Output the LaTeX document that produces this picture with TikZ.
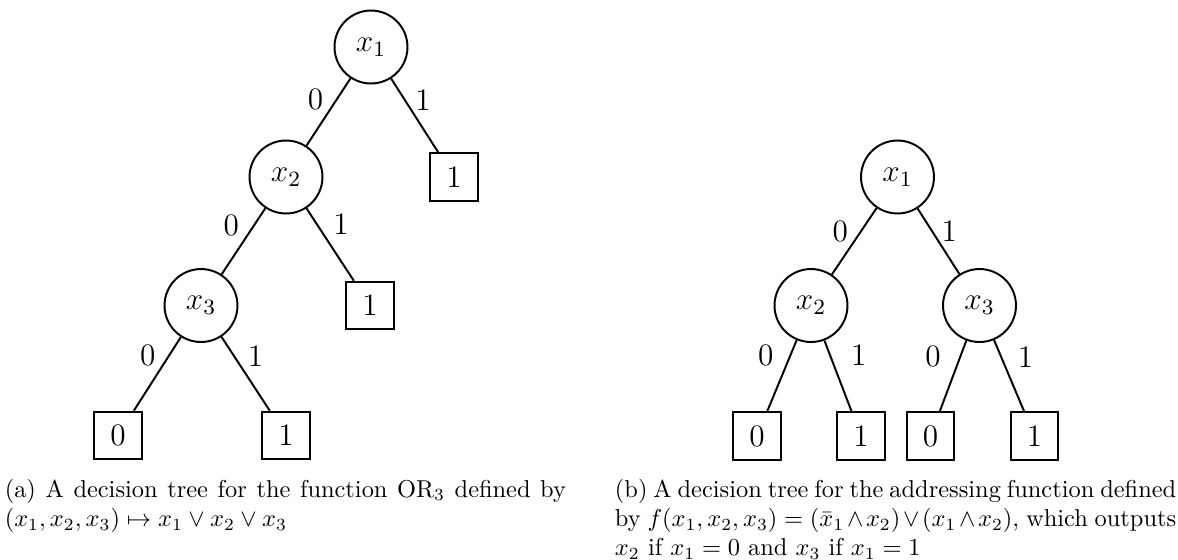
\documentclass[tikz,border=0pt]{standalone}
\usepackage{fix-cm}
\newcommand\treefont{\fontsize{12.8}{15.4}\selectfont}
\newcommand\capline[1]{\makebox[230pt][s]{#1}}
\tikzset{
  dnode/.style={circle, draw, line width=0.8pt, minimum size=29.9pt, inner sep=0pt, font=\treefont},
  leaf/.style={rectangle, draw, line width=0.8pt, minimum size=19.5pt, inner sep=0pt, font=\treefont},
  branch/.style={line width=0.8pt},
  blabel/.style={inner sep=0pt, font=\treefont, midway},
  capt/.style={anchor=north west, inner sep=0pt, align=left,
               font=\fontsize{10}{12}\selectfont}
}
\begin{document}
\begin{tikzpicture}[x=0.4098pt, y=-0.4098pt]
\useasboundingbox (0,0) rectangle (1178,559);

% ---- (a) decision tree for OR_3 ----
\node[dnode] (a1) at (371,47)    {$x_1$};
\node[dnode] (a2) at (286,177)   {$x_2$};
\node[leaf]  (l1) at (454,177)   {1};
\node[dnode] (a3) at (201,305.5) {$x_3$};
\node[leaf]  (l2) at (370,305.5) {1};
\node[leaf]  (l3) at (118,435.5) {0};
\node[leaf]  (l4) at (286,435.5) {1};

\draw[branch] (a1) -- node[blabel, shift={(-13,-13)}] {0} (a2);
\draw[branch] (a1) -- node[blabel, shift={(8.4,-15.3)}] {1} (l1);
\draw[branch] (a2) -- node[blabel, shift={(-12.3,-16.2)}] {0} (a3);
\draw[branch] (a2) -- node[blabel, shift={(10.8,-20.5)}] {1} (l2);
\draw[branch] (a3) -- node[blabel, shift={(-9.6,-18.8)}] {0} (l3);
\draw[branch] (a3) -- node[blabel, shift={(9.9,-18.1)}] {1} (l4);

% ---- (b) decision tree for the addressing function ----
\node[dnode] (b1) at (897.5,177) {$x_1$};
\node[dnode] (b2) at (811,305.5) {$x_2$};
\node[dnode] (b3) at (979.5,305.5) {$x_3$};
\node[leaf]  (m1) at (757,436)   {0};
\node[leaf]  (m2) at (861,436)   {1};
\node[leaf]  (m3) at (930.5,436) {0};
\node[leaf]  (m4) at (1034.5,436) {1};

\draw[branch] (b1) -- node[blabel, shift={(-14,-9.8)}] {0} (b2);
\draw[branch] (b1) -- node[blabel, shift={(10.7,-9.8)}] {1} (b3);
\draw[branch] (b2) -- node[blabel, shift={(-16.2,-20.7)}] {0} (m1);
\draw[branch] (b2) -- node[blabel, shift={(20.9,-21)}] {1} (m2);
\draw[branch] (b3) -- node[blabel, shift={(-20,-19.3)}] {0} (m3);
\draw[branch] (b3) -- node[blabel, shift={(16.5,-19)}] {1} (m4);

% ---- captions ----
\node[capt] (capa) at (4.3,476.2) {\capline{\strut(a) A decision tree for the function OR$_3$ defined by}\\
  $(x_1, x_2, x_3) \mapsto x_1 \vee x_2 \vee x_3$};
\node[capt] (capb) at (614.5,476.2) {\capline{\strut(b) A decision tree for the addressing function defined}\\
  \capline{by $f(x_1, x_2, x_3) = (\bar{x}_1 \wedge x_2) \vee (x_1 \wedge x_2)$, which outputs}\\
  $x_2$ if $x_1 = 0$ and $x_3$ if $x_1 = 1$};
\end{tikzpicture}
\end{document}
